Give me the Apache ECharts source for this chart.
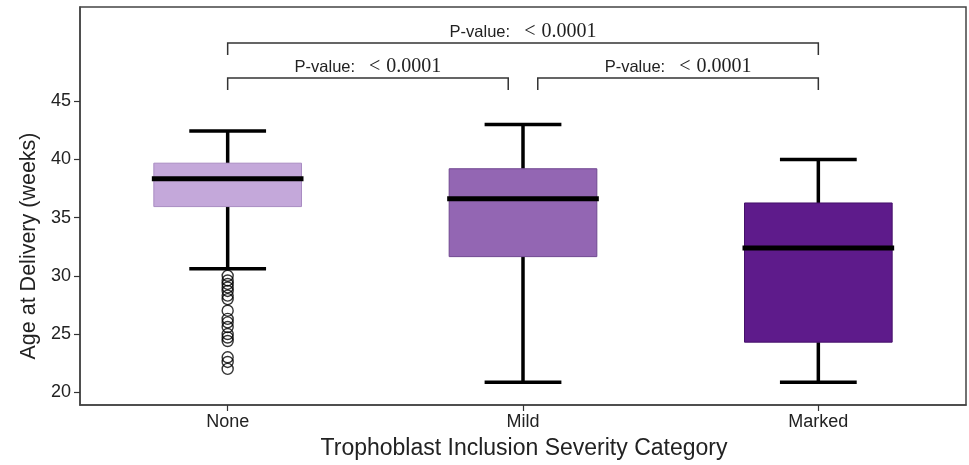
<!DOCTYPE html>
<html>
<head>
<meta charset="utf-8">
<script src="https://cdn.jsdelivr.net/npm/echarts@6/dist/echarts.min.js"></script>
<style>
html,body{margin:0;padding:0;background:#fff;}
#chart{width:969px;height:465px;}
</style>
</head>
<body>
<div id="chart"></div>
<script>
// ---- data ----
const categories = ['None', 'Mild', 'Marked'];
const whiskerLow  = [30.6, 20.85, 20.85];
const q1          = [35.95, 31.65, 24.3];
const median      = [38.35, 36.62, 32.4];
const q3          = [39.68, 39.2, 36.26];
const whiskerHigh = [42.45, 43.0, 40.0];
const outliersNone = [30.0, 29.6, 29.3, 29.0, 28.7, 28.3, 28.0, 27.0, 26.3, 26.0, 25.6, 25.0, 24.7, 24.4, 23.0, 22.6, 22.0];
const yTicks = [20, 25, 30, 35, 40, 45];
const boxColors = ['#c4a8da', '#9366b3', '#5e1b8b'];
const boxBorders = ['#a98cc2', '#6f4690', '#45106a'];
const pFrom  = [0, 0, 1.05];
const pTo    = [2, 0.95, 2];
const pLevel = [50, 47, 47];
const pLabels = ['0.0001', '0.0001', '0.0001'];

const boxData = categories.map((c, i) => [i, whiskerLow[i], q1[i], median[i], q3[i], whiskerHigh[i]]);
const outlierData = outliersNone.map(v => [0, v]);
const bracketData = pFrom.map((f, i) => [f, pTo[i], pLevel[i], i]);

const chart = echarts.init(document.getElementById('chart'), null, {renderer: 'canvas'});
const sans = 'Liberation Sans';

const option = {
  animation: false,
  backgroundColor: '#fff',
  grid: {left: 80, right: 3, top: 7, bottom: 60, show: true, borderColor: '#444', borderWidth: 1.5, backgroundColor: 'transparent'},
  xAxis: [
    {
      type: 'category', data: categories, boundaryGap: true,
      axisLine: {show: true, onZero: false, lineStyle: {color: '#444', width: 1.5}},
      axisTick: {show: true, alignWithLabel: true, length: 6, lineStyle: {color: '#333', width: 1.2}},
      axisLabel: {color: '#222', fontFamily: sans, fontSize: 18, margin: 8},
      splitLine: {show: false}
    },
    {
      type: 'value', min: -0.5, max: 2.5, show: false, gridIndex: 0,
      axisLine: {onZero: false}
    }
  ],
  yAxis: {
    type: 'value', min: 18.9, max: 53.1,
    axisLine: {show: true, onZero: false, lineStyle: {color: '#444', width: 1.5}},
    axisTick: {show: true, length: 6, customValues: yTicks, lineStyle: {color: '#333', width: 1.2}},
    axisLabel: {color: '#222', fontFamily: sans, fontSize: 18, margin: 9, customValues: yTicks},
    splitLine: {show: false}
  },
  graphic: [
    {type: 'text', x: 29, y: 246, rotation: Math.PI / 2,
     style: {text: 'Age at Delivery (weeks)', fill: '#222', font: '21.5px "Liberation Sans"', align: 'center', verticalAlign: 'middle'}},
    {type: 'text', x: 524, y: 449,
     style: {text: 'Trophoblast Inclusion Severity Category', fill: '#222', font: '23px "Liberation Sans"', align: 'center', verticalAlign: 'middle'}}
  ],
  series: [
    {
      type: 'custom',
      xAxisIndex: 0,
      data: boxData,
      renderItem: function (params, api) {
        const x = api.value(0);
        const band = api.size([1, 0])[0];
        const boxW = band * 0.5;
        const capW = band * 0.26;
        const pLow = api.coord([x, api.value(1)]);
        const pQ1 = api.coord([x, api.value(2)]);
        const pMed = api.coord([x, api.value(3)]);
        const pQ3 = api.coord([x, api.value(4)]);
        const pHigh = api.coord([x, api.value(5)]);
        const cx = pMed[0];
        const i = params.dataIndex;
        const lineStyle = {stroke: '#000', lineWidth: 3.5};
        return {
          type: 'group',
          children: [
            {type: 'line', shape: {x1: cx, y1: pLow[1], x2: cx, y2: pQ1[1]}, style: lineStyle},
            {type: 'line', shape: {x1: cx, y1: pQ3[1], x2: cx, y2: pHigh[1]}, style: lineStyle},
            {type: 'line', shape: {x1: cx - capW / 2, y1: pLow[1], x2: cx + capW / 2, y2: pLow[1]}, style: lineStyle},
            {type: 'line', shape: {x1: cx - capW / 2, y1: pHigh[1], x2: cx + capW / 2, y2: pHigh[1]}, style: lineStyle},
            {type: 'rect', shape: {x: cx - boxW / 2, y: pQ3[1], width: boxW, height: pQ1[1] - pQ3[1]},
             style: {fill: boxColors[i], stroke: boxBorders[i], lineWidth: 1}},
            {type: 'line', shape: {x1: cx - boxW / 2 - 2, y1: pMed[1], x2: cx + boxW / 2 + 2, y2: pMed[1]},
             style: {stroke: '#000', lineWidth: 5}}
          ]
        };
      }
    },
    {
      type: 'scatter',
      xAxisIndex: 0,
      data: outlierData,
      symbol: 'circle',
      symbolSize: 11,
      itemStyle: {color: 'rgba(255,255,255,0)', borderColor: '#000', borderWidth: 1.4}
    },
    {
      type: 'custom',
      xAxisIndex: 1,
      data: bracketData,
      renderItem: function (params, api) {
        const a = api.coord([api.value(0), api.value(2)]);
        const b = api.coord([api.value(1), api.value(2)]);
        const drop = 12;
        const i = api.value(3);
        const st = {stroke: '#333', lineWidth: 1.5, fill: null};
        return {
          type: 'group',
          children: [
            {type: 'polyline', shape: {points: [[a[0], a[1] + drop], [a[0], a[1]], [b[0], b[1]], [b[0], b[1] + drop]]}, style: st},
            {type: 'text', x: (a[0] + b[0]) / 2, y: a[1] - 11,
             style: {
               text: '{s|P-value:}{lt|<}{m|' + pLabels[i] + '}',
               align: 'center', verticalAlign: 'middle',
               rich: {
                 s: {fontFamily: sans, fontSize: 16.5, fill: '#222'},
                 lt: {fontFamily: 'Liberation Serif', fontSize: 20, fill: '#222', padding: [0, 6, 0, 14]},
                 m: {fontFamily: 'Liberation Serif', fontSize: 20, fill: '#222'}
               }
             }}
          ]
        };
      }
    }
  ]
};
chart.setOption(option);
</script>
</body>
</html>
